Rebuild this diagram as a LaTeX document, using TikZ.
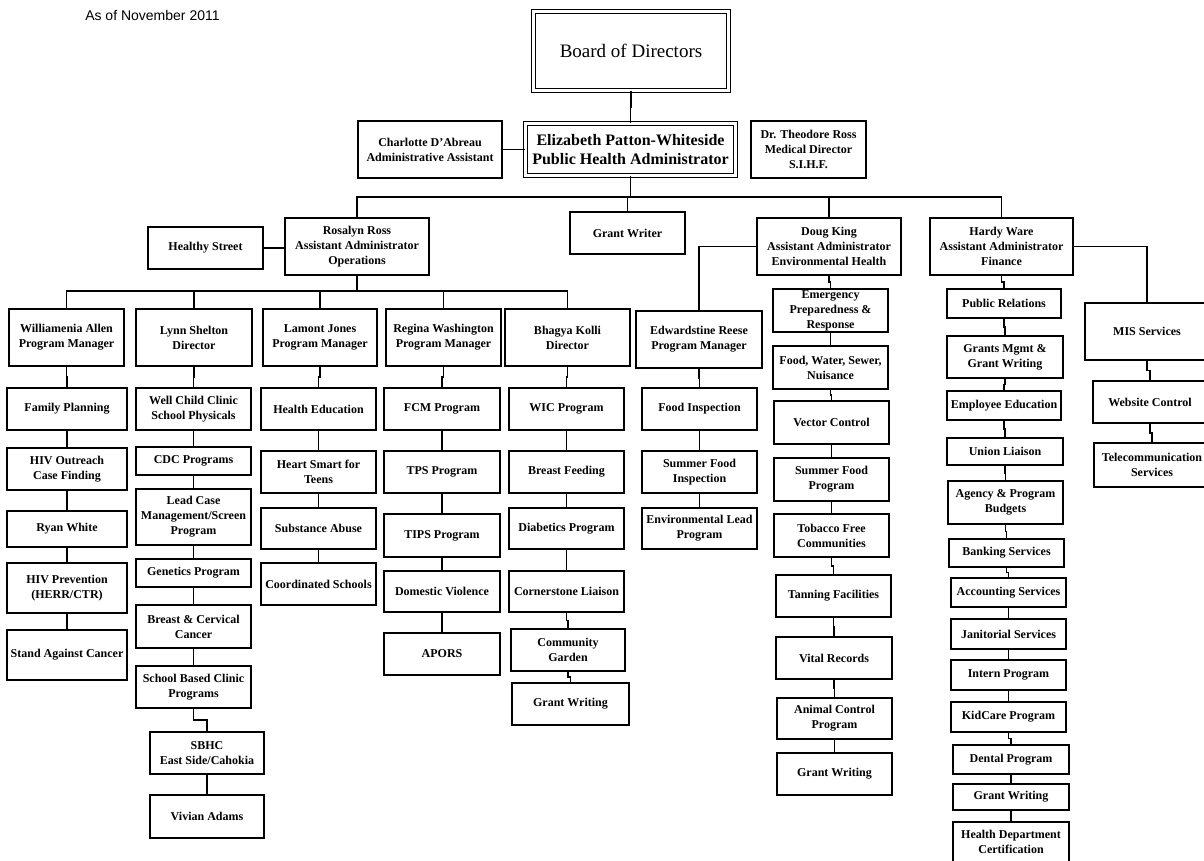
\documentclass[tikz,border=0pt]{standalone}
\usepackage{fontspec}
\setmainfont{Liberation Serif}
\setsansfont{Liberation Sans}
\usetikzlibrary{calc}
\tikzset{
    wd/.style={minimum width=#1*0.5pt},
    ht/.style={minimum height=#1*0.5pt},
    box/.style={rectangle, draw, line width=0.6pt, align=center, inner xsep=1pt, inner ysep=0.3pt,
        font=\bfseries\fontsize{6}{7.5}\selectfont, wd=115, ht=42},
    dbl/.style={double, double distance=1.2pt},
    link/.style={to path={(\tikztostart.south) |- ($(\tikztostart.south)!.5!(\tikztotarget.north)$) -| (\tikztotarget.north)}}
}
\begin{document}
\begin{tikzpicture}[x=0.5pt, y=-0.5pt, line width=0.6pt]
        \useasboundingbox (0,0) rectangle (1204,861);
        \node (date) [anchor=west, font=\sffamily\fontsize{7}{8.4}\selectfont] at (78,15) {As of November 2011};
        \begin{scope}[every node/.style={box}]
            \node (board) [dbl, wd=195, ht=79, font=\fontsize{9.5}{11}\selectfont] at (631,51) {Board of Directors};
            \node (eliz) [dbl, wd=210, ht=52, font=\bfseries\fontsize{8}{9.7}\selectfont] at (630.5,149.5) {Elizabeth Patton-Whiteside\\Public Health Administrator};
            \node (charlotte) [wd=144, ht=57] at (430,149.5) {Charlotte D'Abreau\\Administrative Assistant};
            \node (drross) [ht=57] at (808.5,149.5) {Dr. Theodore Ross\\Medical Director\\S.I.H.F.};
            \node (grantwriter) at (627.5,233) {Grant Writer};
            \node (rosalyn) [wd=144, ht=57] at (357,246.5) {Rosalyn Ross\\Assistant Administrator\\Operations};
            \node (healthy) at (205.5,248) {Healthy Street};
            \node (doug) [wd=144, ht=57] at (829,246.5) {Doug King\\Assistant Administrator\\Environmental Health};
            \node (hardy) [wd=143, ht=57] at (1001.5,246.5) {Hardy Ware\\Assistant Administrator\\Finance};
            \node (mis) [wd=124, ht=57] at (1147,331.5) {MIS Services};
            \node (website) [wd=114] at (1150,402) {Website Control};
            \node (telecom) [wd=116, ht=44] at (1152,465) {Telecommunication\\Services};
            \node (emergency) [ht=43] at (830.5,310.5) {Emergency\\Preparedness \&\\Response};
            \node (foodwater) [ht=43] at (830.5,367.5) {Food, Water, Sewer,\\Nuisance};
            \node (vector) [ht=43] at (831.5,422.5) {Vector Control};
            \node (summerprog) [ht=43] at (831.5,479.5) {Summer Food\\Program};
            \node (tobacco) [ht=43] at (831.5,535.5) {Tobacco Free\\Communities};
            \node (tanning) at (833.5,596) {Tanning Facilities};
            \node (vital) [wd=116] at (834,658) {Vital Records};
            \node (animal) [ht=41] at (834.5,718.5) {Animal Control\\Program};
            \node (dgrant) at (834.5,774) {Grant Writing};
            \node (edward) [wd=126, ht=57] at (699,339.5) {Edwardstine Reese\\Program Manager};
            \node (foodinsp) at (699.5,409) {Food Inspection};
            \node (summerinsp) at (699.5,472) {Summer Food\\Inspection};
            \node (envlead) [ht=41] at (699.5,528.5) {Environmental Lead\\Program};
            \node (pubrel) [wd=114, ht=29] at (1004,303.5) {Public Relations};
            \node (grantsmgmt) [wd=116] at (1005,357) {Grants Mgmt \&\\Grant Writing};
            \node (empedu) [wd=114, ht=29] at (1004,405.5) {Employee Education};
            \node (union) [wd=116, ht=27] at (1005,451.5) {Union Liaison};
            \node (agency) [ht=43] at (1005.5,502.5) {Agency \& Program\\Budgets};
            \node (banking) [ht=28] at (1006.5,553) {Banking Services};
            \node (accounting) [ht=29] at (1008.5,592.5) {Accounting Services};
            \node (janitorial) [ht=30] at (1008.5,634) {Janitorial Services};
            \node (intern) [ht=30] at (1008.5,675) {Intern Program};
            \node (kidcare) [ht=30] at (1008.5,717) {KidCare Program};
            \node (dental) [wd=116, ht=29] at (1011,759.5) {Dental Program};
            \node (hgrant) [wd=116, ht=26] at (1011,797) {Grant Writing};
            \node (healthdept) [wd=116, ht=40] at (1011,842) {Health Department\\Certification};
            \node (williamenia) [ht=57] at (66.5,337.5) {Williamenia Allen\\Program Manager};
            \node (lynn) [wd=116, ht=57] at (194,337.5) {Lynn Shelton\\Director};
            \node (lamont) [wd=114, ht=57] at (320,337.5) {Lamont Jones\\Program Manager};
            \node (regina) [ht=57] at (443.5,337.5) {Regina Washington\\Program Manager};
            \node (bhagya) [wd=125, ht=57] at (567.5,337.5) {Bhagya Kolli\\Director};
            \node (family) [wd=120] at (67,409) {Family Planning};
            \node (hivout) [wd=120] at (67,469) {HIV Outreach\\Case Finding};
            \node (ryan) [wd=120, ht=36] at (67,529) {Ryan White};
            \node (hivprev) [wd=120, ht=50] at (67,588) {HIV Prevention\\(HERR/CTR)};
            \node (stand) [wd=120, ht=50] at (67,655) {Stand Against Cancer};
            \node (wellchild) at (193.5,409) {Well Child Clinic\\School Physicals};
            \node (cdc) [ht=28] at (193.5,461) {CDC Programs};
            \node (leadcase) [ht=56] at (193.5,517) {Lead Case\\Management/Screen\\Program};
            \node (genetics) [ht=28] at (193.5,573) {Genetics Program};
            \node (breastcerv) [ht=43] at (193.5,626.5) {Breast \& Cervical\\Cancer};
            \node (schoolbased) at (193.5,687) {School Based Clinic\\Programs};
            \node (sbhc) [wd=114] at (207,753) {SBHC\\East Side/Cahokia};
            \node (vivian) [wd=114, ht=43] at (207,816.5) {Vivian Adams};
            \node (healthedu) at (318.5,409) {Health Education};
            \node (heart) at (318.5,472) {Heart Smart for\\Teens};
            \node (substance) [ht=41] at (318.5,528.5) {Substance Abuse};
            \node (coordinated) at (318.5,584) {Coordinated Schools};
            \node (fcm) [wd=116] at (442,409) {FCM Program};
            \node (tps) [wd=116] at (442,472) {TPS Program};
            \node (tips) [wd=116, ht=43] at (442,535.5) {TIPS Program};
            \node (domestic) [wd=116, ht=41] at (442,591.5) {Domestic Violence};
            \node (apors) [wd=116] at (442,654) {APORS};
            \node (wic) at (566.5,409) {WIC Program};
            \node (breastfeed) at (566.5,472) {Breast Feeding};
            \node (diabetics) [ht=41] at (566.5,528.5) {Diabetics Program};
            \node (cornerstone) [ht=41] at (566.5,591.5) {Cornerstone Liaison};
            \node (garden) [wd=114] at (568,650) {Community\\Garden};
            \node (bgrant) [wd=117] at (570.5,704) {Grant Writing};
        \end{scope}
        \coordinate (topbus) at (630.5,197);
        \coordinate (opsbus) at (357,291);
        \draw (board) edge[link] (eliz);
        \draw (charlotte.east) -- (eliz.west);
        \draw (eliz.south) -- (topbus);
        \draw (rosalyn.north) |- (topbus) -| (hardy.north);
        \draw (topbus -| grantwriter.north) -- (grantwriter.north);
        \draw (topbus -| doug.north) -- (doug.north);
        \draw (healthy.east) -- (healthy.east -| rosalyn.west);
        \draw (rosalyn.south) -- (opsbus);
        \draw (williamenia.north) |- (opsbus) -| (bhagya.north);
        \draw (opsbus -| lynn.north) -- (lynn.north);
        \draw (opsbus -| lamont.north) -- (lamont.north);
        \draw (opsbus -| regina.north) -- (regina.north);
        \draw (doug.west) -| (edward.north);
        \draw (hardy.east) -| (mis.north);
        \draw (mis) edge[link] (website);
        \draw (website) edge[link] (telecom);
        \draw (doug) edge[link] (emergency);
        \draw (emergency) edge[link] (foodwater);
        \draw (foodwater) edge[link] (vector);
        \draw (vector) edge[link] (summerprog);
        \draw (summerprog) edge[link] (tobacco);
        \draw (tobacco) edge[link] (tanning);
        \draw (tanning) edge[link] (vital);
        \draw (vital) edge[link] (animal);
        \draw (animal) edge[link] (dgrant);
        \draw (edward) edge[link] (foodinsp);
        \draw (foodinsp) edge[link] (summerinsp);
        \draw (summerinsp) edge[link] (envlead);
        \draw (hardy) edge[link] (pubrel);
        \draw (pubrel) edge[link] (grantsmgmt);
        \draw (grantsmgmt) edge[link] (empedu);
        \draw (empedu) edge[link] (union);
        \draw (union) edge[link] (agency);
        \draw (agency) edge[link] (banking);
        \draw (banking) edge[link] (accounting);
        \draw (accounting) edge[link] (janitorial);
        \draw (janitorial) edge[link] (intern);
        \draw (intern) edge[link] (kidcare);
        \draw (kidcare) edge[link] (dental);
        \draw (dental) edge[link] (hgrant);
        \draw (hgrant) edge[link] (healthdept);
        \draw (williamenia) edge[link] (family);
        \draw (family) edge[link] (hivout);
        \draw (hivout) edge[link] (ryan);
        \draw (ryan) edge[link] (hivprev);
        \draw (hivprev) edge[link] (stand);
        \draw (lynn) edge[link] (wellchild);
        \draw (wellchild) edge[link] (cdc);
        \draw (cdc) edge[link] (leadcase);
        \draw (leadcase) edge[link] (genetics);
        \draw (genetics) edge[link] (breastcerv);
        \draw (breastcerv) edge[link] (schoolbased);
        \draw (schoolbased) edge[link] (sbhc);
        \draw (sbhc) edge[link] (vivian);
        \draw (lamont) edge[link] (healthedu);
        \draw (healthedu) edge[link] (heart);
        \draw (heart) edge[link] (substance);
        \draw (substance) edge[link] (coordinated);
        \draw (regina) edge[link] (fcm);
        \draw (fcm) edge[link] (tps);
        \draw (tps) edge[link] (tips);
        \draw (tips) edge[link] (domestic);
        \draw (domestic) edge[link] (apors);
        \draw (bhagya) edge[link] (wic);
        \draw (wic) edge[link] (breastfeed);
        \draw (breastfeed) edge[link] (diabetics);
        \draw (diabetics) edge[link] (cornerstone);
        \draw (cornerstone) edge[link] (garden);
        \draw (garden) edge[link] (bgrant);
    \end{tikzpicture}
\end{document}
